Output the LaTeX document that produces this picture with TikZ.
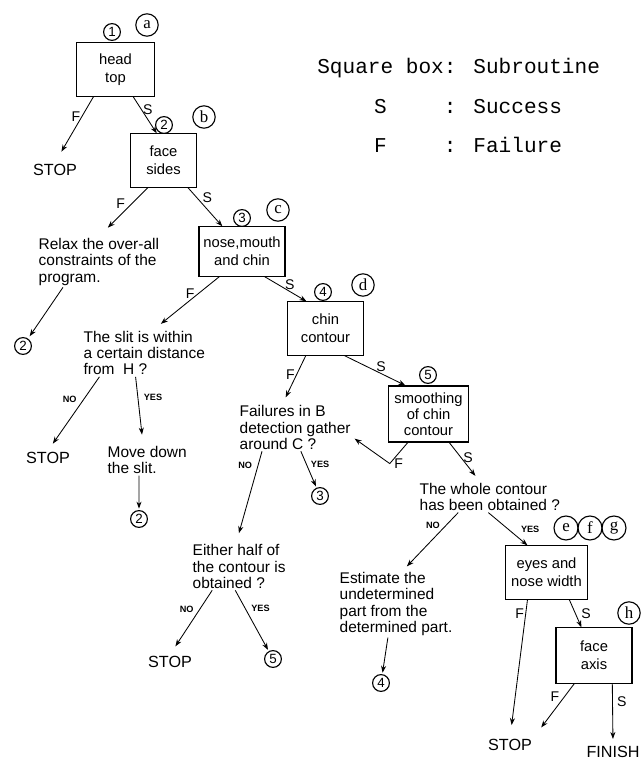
\documentclass[tikz,border=0pt]{standalone}
\usepackage{fontspec}
\setmainfont{Liberation Sans}
\newfontfamily\legendfont{Liberation Mono}
\newfontfamily\letterfont{Liberation Serif}
\usetikzlibrary{positioning,arrows.meta,calc}

\tikzset{
  subr/.style={draw,line width=0.8pt,align=center,inner sep=2pt,minimum height=1.33cm,
    font=\fontsize{10.5}{12.5}\selectfont},
  txt/.style={align=left,inner sep=1pt,anchor=west,font=\fontsize{11}{11.7}\selectfont},
  term/.style={inner sep=1pt,font=\fontsize{11.5}{12}\selectfont},
  num/.style={circle,draw,line width=0.8pt,inner sep=0pt,minimum size=0.42cm,
    font=\fontsize{9.5}{9.5}\selectfont},
  lett/.style={circle,draw,line width=0.8pt,inner sep=0pt,minimum size=0.56cm,
    font=\letterfont\fontsize{12}{12}\selectfont},
  arr/.style={-{Stealth[length=5pt,width=3.6pt]},line width=0.6pt},
  lbl/.style={inner sep=1pt,font=\fontsize{10}{10}\selectfont},
  yn/.style={inner sep=1pt,font=\fontsize{6.5}{6.5}\selectfont\bfseries}
}

\begin{document}
\begin{tikzpicture}[x=0.025cm,y=-0.025cm]
\useasboundingbox (0,0) rectangle (641,760);

% legend
\node[anchor=base west,inner sep=0pt,font=\legendfont\fontsize{15}{18}\selectfont] (legend) at (317,74)
  {\begin{tabular}[t]{@{}c@{}l@{}}
   Square box& : Subroutine\\[10pt]
   S& : Success\\[10pt]
   F& : Failure
   \end{tabular}};

% subroutines
\node[subr,minimum width=1.93cm] (headtop) at (115.5,69.5) {head\\top};
\node[subr,minimum width=1.63cm] (sides) at (163.5,160.5) {face\\sides};
\node[subr,minimum width=2.15cm,minimum height=1.23cm] (nmc) at (242,251.5) {nose,mouth\\and chin};
\node[subr,minimum width=1.88cm] (chin) at (325.5,328.5) {chin\\contour};
\node[subr,minimum width=1.98cm,minimum height=1.4cm,font=\fontsize{10.5}{11.2}\selectfont] (smooth) at (428.5,414) {smoothing\\of chin\\contour};
\node[subr,minimum width=2.03cm] (eyes) at (546.5,572.5) {eyes and\\nose width};
\node[subr,minimum width=1.9cm,minimum height=1.38cm] (axis) at (594,655.5) {face\\axis};

% step numbers and letters
\node[num] (c1) at (112,32) {1};
\node[lett] (ca) at (147,25) {a};
\node[num] (c2) at (164,125) {2};
\node[lett] (cb) at (204,117) {b};
\node[num] (c3) at (242,218) {3};
\node[lett] (cc) at (278,210) {c};
\node[num] (c4) at (323,292) {4};
\node[lett] (cd) at (363,285) {d};
\node[num] (c5) at (428,375) {5};
\node[lett,minimum size=0.6cm] (ce) at (566,528) {e};
\node[lett,minimum size=0.6cm] (cf) at (590,528) {f};
\node[lett,minimum size=0.6cm] (cg) at (614,528) {g};
\node[lett] (ch) at (629,613) {h};

% questions and actions
\node[txt] (relax) at (37,262) {Relax the over-all\\constraints of the\\program.};
\node[txt] (slit) at (82,353) {The slit is within\\a certain distance\\from\ \ H ?};
\node[txt] (move) at (106,460) {Move down\\the slit.};
\node[txt] (fail) at (238,427.5) {Failures in B\\detection gather\\around C ?};
\node[txt] (whole) at (418,497) {The whole contour\\has been obtained ?};
\node[txt] (either) at (191,566.5) {Either half of\\the contour is\\obtained ?};
\node[txt] (estimate) at (338,604) {Estimate the\\undetermined\\part from the\\determined part.};

% ends
\node[term] (stop1) at (55,170) {STOP};
\node[term] (stop2) at (48,458) {STOP};
\node[term] (stop3) at (170,662) {STOP};
\node[term] (stop4) at (510,745) {STOP};
\node[term] (finish) at (613,752) {FINISH};
\node[num] (c2a) at (23,346) {2};
\node[num] (c2b) at (139,519) {2};
\node[num] (c3b) at (320,496) {3};
\node[num] (c5b) at (273,659) {5};
\node[num] (c4b) at (381,683) {4};

% connectors
\draw[arr,shorten >=9pt] (headtop.231) -- (stop1.north) node[lbl,pos=.3,left]{F};
\draw[arr] (headtop.-57) -- (sides.104) node[lbl,pos=.35,right]{S};
\draw[arr,shorten >=9pt] (sides.240) -- (relax.north) node[lbl,pos=.45,above left=-1pt]{F};
\draw[arr] (sides.-48) -- (nmc.128) node[lbl,pos=.4,above right=-1pt]{S};
\draw[arr,shorten >=2pt] ($(relax.south west)!.21!(relax.south east)$) -- (c2a);
\draw[arr,shorten >=6pt] (nmc.228) -- ($(slit.north west)!.58!(slit.north east)$)
  node[lbl,pos=.45,above]{F};
\draw[arr] (nmc.-48) -- (chin.125) node[lbl,pos=.6,above]{S};
\draw[arr,shorten >=6pt] ($(slit.south west)!.14!(slit.south east)$) -- (stop2.north)
  node[yn,pos=.3,left=4pt]{NO};
\draw[arr,shorten >=7pt] ($(slit.south west)!.43!(slit.south east)$) -- ($(move.north west)!.45!(move.north east)$)
  node[yn,pos=.3,right=3pt]{YES};
\draw[arr,shorten >=1pt] ($(move.south west)!.4!(move.south east)$) -- (c2b);
\draw[arr,shorten >=5pt] (chin.234) -- ($(fail.north west)!.39!(fail.north east)$) node[lbl,pos=.4,left]{F};
\draw[arr] (chin.-55) -- (smooth.129) node[lbl,pos=.6,above]{S};
\draw[arr,shorten >=2pt] (smooth.234) -- ++(-18,21) node[lbl,right=2pt]{F}
  -- ($(fail.south east)!.3!(fail.north east)$);
\draw[arr,shorten >=5pt] (smooth.-54) -- ($(whole.north west)!.43!(whole.north east)$)
  node[lbl,pos=.4,right]{S};
\draw[arr,shorten >=7pt] ($(fail.south west)!.21!(fail.south east)$) -- ($(either.north west)!.47!(either.north east)$)
  node[yn,pos=.15,left=3pt]{NO};
\draw[arr,shorten >=1pt] ($(fail.south west)!.55!(fail.south east)$) -- (c3b)
  node[yn,pos=.35,right=2pt]{YES};
\draw[arr,shorten >=7pt] ($(either.south west)!.22!(either.south east)$) -- (stop3.north)
  node[yn,pos=.3,left=3pt]{NO};
\draw[arr,shorten >=1pt] ($(either.south west)!.46!(either.south east)$) -- (c5b)
  node[yn,pos=.3,right=3pt]{YES};
\draw[arr,shorten >=4pt] ($(whole.south west)!.28!(whole.south east)$) -- ($(estimate.north west)!.56!(estimate.north east)$)
  node[yn,pos=.3,above left=0pt]{NO};
\draw[arr] ($(whole.south west)!.49!(whole.south east)$) -- (eyes.125)
  node[yn,pos=.5,right=8pt]{YES};
\draw[arr,shorten >=1pt] ($(estimate.south west)!.43!(estimate.south east)$) -- (c4b);
\draw[arr,shorten >=9pt] (eyes.235) -- (stop4.north) node[lbl,pos=.1,left]{F};
\draw[arr] (eyes.-50) -- (axis.114) node[lbl,pos=.5,right=3pt]{S};
\draw[arr,shorten >=9pt] (axis.235) -- (stop4.north east) node[lbl,pos=.35,above left=-1pt]{F};
\draw[arr,shorten >=4pt] (axis.-57) -- (finish.north) node[lbl,pos=.3,right=2pt]{S};
\end{tikzpicture}
\end{document}
